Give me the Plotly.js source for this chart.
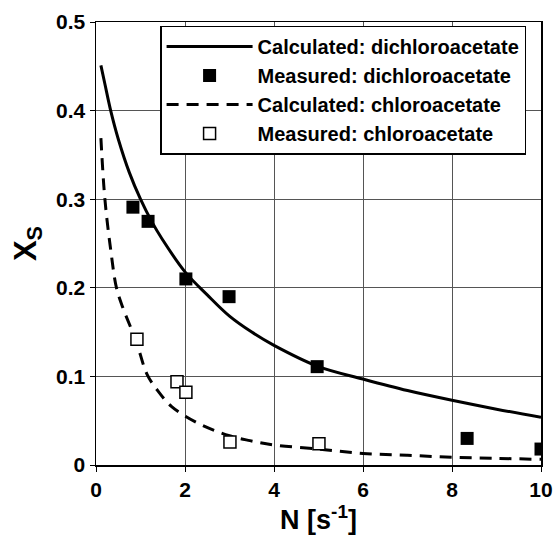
<!DOCTYPE html>
<html>
<head>
<meta charset="utf-8">
<script src="https://cdn.plot.ly/plotly-3.0.1.min.js"></script>
<style>html,body{margin:0;padding:0;background:#fff;}#chart{width:553px;height:535px;}</style>
</head>
<body>
<div id="chart"></div>
<script>
// Calculated: dichloroacetate
const calcDiX = [0.11, 0.2, 0.33, 0.5, 0.75, 1.0, 1.25, 1.5, 2.0, 2.5, 3, 3.5, 4, 5, 6, 7, 8, 9, 10];
const calcDiY = [0.451, 0.43, 0.40, 0.368, 0.33, 0.30, 0.275, 0.254, 0.218, 0.192, 0.168, 0.150, 0.135, 0.111, 0.097, 0.084, 0.073, 0.063, 0.054];
// Measured: dichloroacetate
const measDiX = [0.83, 1.17, 2.02, 2.99, 4.97, 8.34, 10.0];
const measDiY = [0.291, 0.275, 0.210, 0.190, 0.111, 0.030, 0.018];
// Calculated: chloroacetate
const calcClX = [0.11, 0.2, 0.33, 0.46, 0.6, 0.9, 1.15, 1.4, 1.7, 2.26, 3, 3.46, 4, 5, 6, 7, 8, 9, 10];
const calcClY = [0.369, 0.30, 0.243, 0.20, 0.178, 0.140, 0.102, 0.083, 0.066, 0.048, 0.033, 0.0275, 0.0226, 0.018, 0.013, 0.011, 0.0087, 0.0075, 0.0064];
// Measured: chloroacetate
const measClX = [0.92, 1.82, 2.02, 3.01, 5.01];
const measClY = [0.142, 0.094, 0.082, 0.026, 0.024];

const names = ["Calculated: dichloroacetate", "Measured: dichloroacetate", "Calculated: chloroacetate", "Measured: chloroacetate"];
const xTicks = [0, 2, 4, 6, 8, 10];
const yTicks = [0, 0.1, 0.2, 0.3, 0.4, 0.5];

const FONT = "Arial, 'Liberation Sans', sans-serif";

const traces = [
  {x: calcDiX, y: calcDiY, name: names[0], mode: "lines", legendgroup: "a",
   line: {color: "#000", width: 3, shape: "spline"}},
  {x: measDiX, y: measDiY, name: names[1], mode: "markers", legendgroup: "b",
   marker: {symbol: "square", size: 13, color: "#000", line: {width: 0}}},
  {x: calcClX, y: calcClY, name: names[2], mode: "lines", legendgroup: "c",
   line: {color: "#000", width: 3, dash: "12px,8px", shape: "spline"}},
  {x: measClX, y: measClY, name: names[3], mode: "markers", legendgroup: "d",
   marker: {symbol: "square", size: 12, color: "#fff", line: {color: "#000", width: 1.5}}}
];

const layout = {
  width: 553, height: 535,
  margin: {l: 96, r: 12, t: 22, b: 70},
  paper_bgcolor: "#fff", plot_bgcolor: "#fff",
  font: {family: FONT, color: "#000"},
  showlegend: true,
  legend: {
    x: 0.144, y: 0.992, xanchor: "left", yanchor: "top",
    bgcolor: "#fff", bordercolor: "#000", borderwidth: 1.5,
    font: {family: FONT, size: 20, color: "#000", weight: "bold"},
    tracegroupgap: 0, itemwidth: 86
  },
  xaxis: {
    range: [0, 10], tickvals: xTicks, ticktext: xTicks.map(String),
    showgrid: true, gridcolor: "#555", gridwidth: 1,
    showline: true, linecolor: "#000", linewidth: 1.5, mirror: true,
    ticks: "outside", ticklen: 5, tickcolor: "#000",
    zeroline: false,
    tickfont: {family: FONT, size: 21, weight: "bold"},
    title: {text: "N [s<sup>-1</sup>]", font: {family: FONT, size: 27, weight: "bold"}, standoff: 4}
  },
  yaxis: {
    range: [0, 0.5], tickvals: yTicks, ticktext: ["0", "0.1", "0.2", "0.3", "0.4", "0.5"],
    showgrid: true, gridcolor: "#555", gridwidth: 1,
    showline: true, linecolor: "#000", linewidth: 1.5, mirror: true,
    ticks: "outside", ticklen: 5, tickcolor: "#000",
    zeroline: false,
    tickfont: {family: FONT, size: 21, weight: "bold"},
    title: {text: "X<sub>S</sub>", font: {family: FONT, size: 31, weight: "bold"}, standoff: 10}
  }
};

Plotly.newPlot("chart", traces, layout, {displayModeBar: false, staticPlot: true});
</script>
</body>
</html>
